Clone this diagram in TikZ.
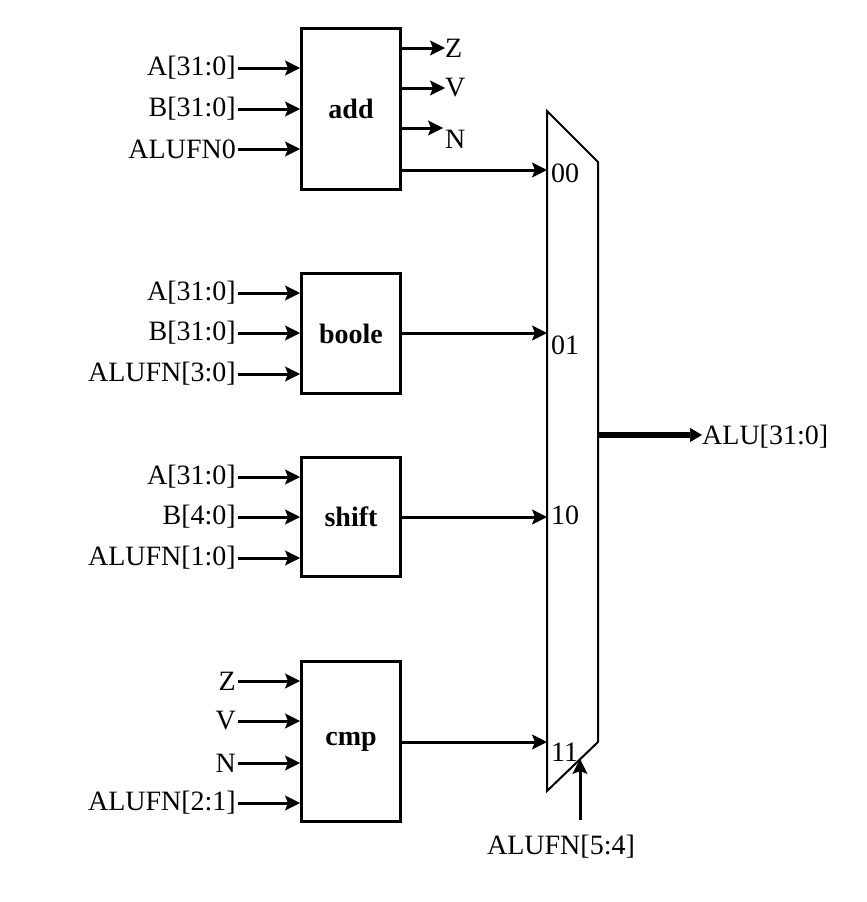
\documentclass[tikz,border=0pt]{standalone}
\usepackage{fontspec}
\setmainfont{Liberation Serif}
\usetikzlibrary{arrows.meta}
\begin{document}
\begin{tikzpicture}[x=1pt,y=-1pt,
  lab/.style={font=\fontsize{28}{31}\selectfont, inner sep=0pt},
  blk/.style={draw, line width=3pt, minimum width=99pt, inner sep=0pt, font=\fontsize{28}{31}\selectfont\bfseries},
  arr/.style={line width=3pt, -{Stealth[length=15pt,width=15pt,inset=3pt,line width=1pt]}},
  muxline/.style={line width=2pt, line join=miter},
  bigarr/.style={line width=6pt, -{Triangle[length=12pt,width=14pt,line width=0.5pt]}},
]
\useasboundingbox (0,0) rectangle (867,902);

% blocks
\node[blk, minimum height=161pt] (add) at (351,109) {add};
\node[blk, minimum height=120pt] (boole) at (351,333.5) {boole};
\node[blk, minimum height=119pt] (shift) at (351,517) {shift};
\node[blk, minimum height=160pt] (cmp) at (351,741.5) {cmp};

% mux
\coordinate (mtl) at (547,111);
\coordinate (mtr) at (598,162);
\coordinate (mbr) at (598,742);
\coordinate (mbl) at (547,791);
\draw[muxline] (mtl) -- (mtr) -- (mbr) -- (mbl) -- cycle;

% add inputs
\node[lab, anchor=east] (a1) at (236,68) {A[31:0]};
\node[lab, anchor=east] (a2) at (236,109) {B[31:0]};
\node[lab, anchor=east] (a3) at (236,149) {ALUFN0};
\foreach \n in {a1,a2,a3} \draw[arr] ([xshift=2pt]\n.east) -- (\n.east -| add.west);

% add outputs
\node[lab, anchor=west] (zo) at (445,48) {Z};
\node[lab, anchor=west] (vo) at (445,88) {V};
\node[lab, anchor=north west] (no) at (445,130) {N};
\coordinate (nend) at (443,128);
\draw[arr] (add.east |- zo) -- (zo.west);
\draw[arr] (add.east |- vo) -- (vo.west);
\draw[arr] (add.east |- nend) -- (nend);

% boole inputs
\node[lab, anchor=east] (b1) at (236,293) {A[31:0]};
\node[lab, anchor=east] (b2) at (236,333) {B[31:0]};
\node[lab, anchor=east] (b3) at (236,374) {ALUFN[3:0]};
\foreach \n in {b1,b2,b3} \draw[arr] ([xshift=2pt]\n.east) -- (\n.east -| boole.west);

% shift inputs
\node[lab, anchor=east] (s1) at (236,477) {A[31:0]};
\node[lab, anchor=east] (s2) at (236,517) {B[4:0]};
\node[lab, anchor=east] (s3) at (236,558) {ALUFN[1:0]};
\foreach \n in {s1,s2,s3} \draw[arr] ([xshift=2pt]\n.east) -- (\n.east -| shift.west);

% cmp inputs
\node[lab, anchor=east] (c1) at (236,681) {Z};
\node[lab, anchor=east] (c2) at (236,721) {V};
\node[lab, anchor=east] (c3) at (236,763) {N};
\node[lab, anchor=east] (c4) at (236,803) {ALUFN[2:1]};
\foreach \n in {c1,c2,c3,c4} \draw[arr] ([xshift=2pt]\n.east) -- (\n.east -| cmp.west);

% mux inputs
\coordinate (m0) at (547,170);
\coordinate (m1) at (547,333);
\coordinate (m2) at (547,517);
\coordinate (m3) at (547,742);
\draw[arr] (add.east |- m0) -- (m0);
\draw[arr] (boole.east |- m1) -- (m1);
\draw[arr] (shift.east |- m2) -- (m2);
\draw[arr] (cmp.east |- m3) -- (m3);
\node[lab, anchor=west] (l0) at (551,173) {00};
\node[lab, anchor=west] (l1) at (551,345) {01};
\node[lab, anchor=west] (l2) at (551,515) {10};
\node[lab, anchor=west] (l3) at (551,752) {11};

% mux output
\node[lab, anchor=west] (alu) at (702,437) {ALU[31:0]};
\coordinate (mout) at (598,435);
\draw[bigarr] (mout) -- (alu.west |- mout);

% select
\node[lab] (sel) at (561,847) {ALUFN[5:4]};
\coordinate (selb) at (580,820);
\coordinate (selt) at (580,759);
\draw[arr] (selb) -- (selt);
\end{tikzpicture}
\end{document}
